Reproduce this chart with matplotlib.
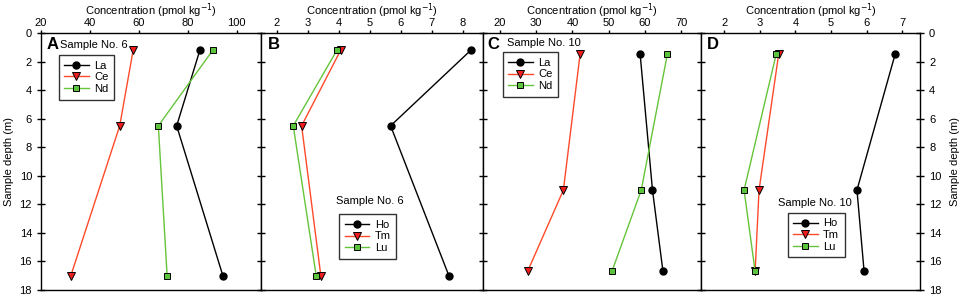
import matplotlib.pyplot as plt

plt.rcParams['font.family'] = ['Liberation Sans', 'DejaVu Sans']

# panel A / C: light REE, panel B / D: heavy REE
depth_6 = [1.2, 6.5, 17.0]
depth_10 = [1.5, 11.0, 16.7]

a_la = [85.0, 75.5, 94.4]
a_ce = [57.7, 52.2, 32.2]
a_nd = [90.3, 68.0, 71.6]

b_ho = [8.27, 5.68, 7.56]
b_tm = [4.07, 2.81, 3.43]
b_lu = [3.95, 2.54, 3.28]

c_la = [58.7, 62.1, 65.0]
c_ce = [42.1, 37.5, 27.6]
c_nd = [66.2, 59.0, 50.9]

d_ho = [6.80, 5.73, 5.93]
d_tm = [3.53, 2.98, 2.87]
d_lu = [3.46, 2.56, 2.87]

light = ['La', 'Ce', 'Nd']
heavy = ['Ho', 'Tm', 'Lu']

BLACK = 'black'
RED = '#ff4a2a'
GREEN = '#66c43a'

fig = plt.figure(figsize=(9.64, 2.97), dpi=100)
W, H = 964, 297
edges = [41, 261, 483, 701, 920]
top, bot = 33, 290

def make_ax(i):
    ax = fig.add_axes([edges[i] / W, 1 - bot / H, (edges[i + 1] - edges[i]) / W, (bot - top) / H])
    return ax

def draw(ax, depth, s1, s2, s3, names):
    ax.plot(s1, depth, '-o', color=BLACK, lw=1.0, ms=5, mfc=BLACK, mec=BLACK, label=names[0], zorder=3)
    ax.plot(s2, depth, '-v', color=RED, lw=1.0, ms=5.5, mfc='#ee1c1c', mec=BLACK, mew=0.7, label=names[1], zorder=3)
    ax.plot(s3, depth, '-s', color=GREEN, lw=1.0, ms=4.5, mfc='#5cc43c', mec=BLACK, mew=0.7, label=names[2], zorder=4)

def style(ax, xlim, xticks):
    ax.set_xlim(*xlim)
    ax.set_ylim(18, 0)
    ax.set_xticks(xticks)
    ax.set_yticks(range(0, 19, 2))
    ax.xaxis.tick_top()
    ax.xaxis.set_label_position('top')
    ax.set_xlabel('Concentration (pmol kg$^{-1}$)', fontsize=8, labelpad=2.5)
    ax.tick_params(axis='x', direction='out', length=2, width=1, labelsize=8, pad=1.3)
    ax.tick_params(axis='y', direction='inout', length=6, width=1, labelsize=8, labelleft=False)
    for sp in ax.spines.values():
        sp.set_linewidth(1.0)

def leg(ax, loc):
    l = ax.legend(loc='upper left', bbox_to_anchor=loc, fontsize=8, frameon=True, fancybox=False,
                  edgecolor='black', handlelength=2.2, borderpad=0.5, labelspacing=0.15,
                  handletextpad=0.5, borderaxespad=0)
    l.get_frame().set_linewidth(1.0)

axA = make_ax(0)
draw(axA, depth_6, a_la, a_ce, a_nd, light)
style(axA, (20, 110), [20, 40, 60, 80, 100])
axA.tick_params(axis='y', labelleft=True)
axA.set_ylabel('Sample depth (m)', fontsize=8)
axA.text(0.025, 0.955, 'A', transform=axA.transAxes, fontsize=12, fontweight='bold', va='center')
axA.text(0.085, 0.955, 'Sample No. 6', transform=axA.transAxes, fontsize=8, va='center')
leg(axA, (0.08, 0.914))

axB = make_ax(1)
draw(axB, depth_6, b_ho, b_tm, b_lu, heavy)
style(axB, (1.5, 8.66), [2, 3, 4, 5, 6, 7, 8])
axB.text(0.03, 0.955, 'B', transform=axB.transAxes, fontsize=12, fontweight='bold', va='center')
axB.text(0.49, 0.345, 'Sample No. 6', transform=axB.transAxes, fontsize=8, va='center', ha='center')
leg(axB, (0.352, 0.295))

axC = make_ax(2)
draw(axC, depth_10, c_la, c_ce, c_nd, light)
style(axC, (15.3, 75.5), [20, 30, 40, 50, 60, 70])
axC.text(0.022, 0.955, 'C', transform=axC.transAxes, fontsize=12, fontweight='bold', va='center')
axC.text(0.11, 0.96, 'Sample No. 10', transform=axC.transAxes, fontsize=8, va='center')
leg(axC, (0.09, 0.925))

axD = make_ax(3)
draw(axD, depth_10, d_ho, d_tm, d_lu, heavy)
style(axD, (1.35, 7.5), [2, 3, 4, 5, 6, 7])
axD.text(0.028, 0.955, 'D', transform=axD.transAxes, fontsize=12, fontweight='bold', va='center')
axD.text(0.52, 0.34, 'Sample No. 10', transform=axD.transAxes, fontsize=8, va='center', ha='center')
axD.tick_params(axis='y', right=True, labelright=True)
axD.yaxis.set_label_position('right')
axD.set_ylabel('Sample depth (m)', fontsize=8, rotation=90, labelpad=6)
leg(axD, (0.395, 0.3))

fig.savefig('out.png', dpi=100)
